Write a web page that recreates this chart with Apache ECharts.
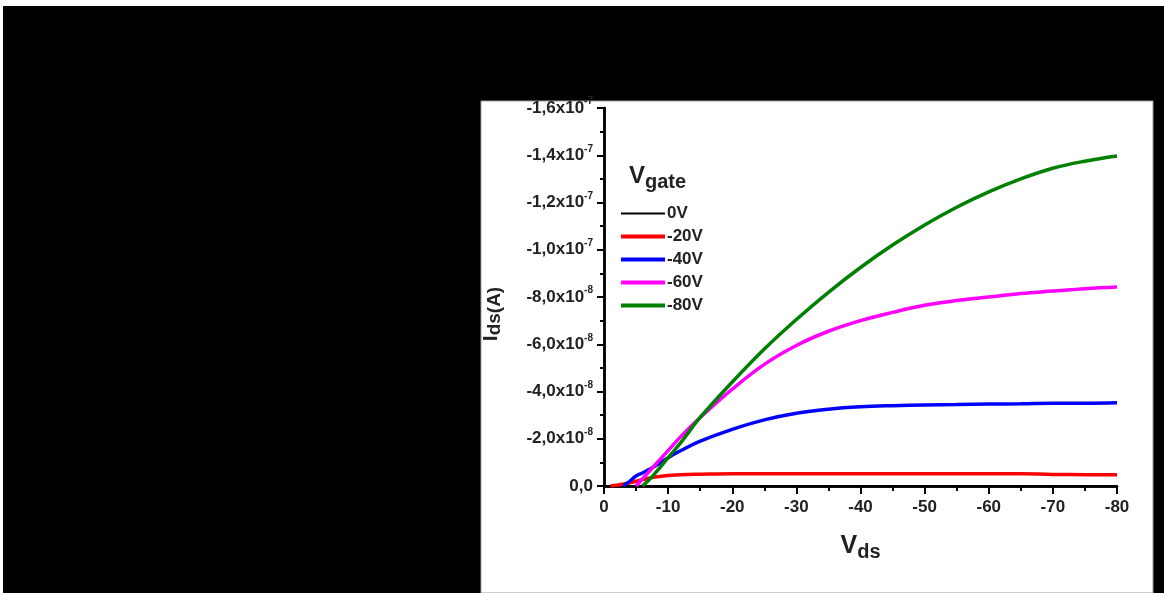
<!DOCTYPE html>
<html>
<head>
<meta charset="utf-8">
<style>
html,body{margin:0;padding:0;background:#fff;}
#chart{width:1164px;height:593px;}
</style>
<script src="https://cdn.jsdelivr.net/npm/echarts@6/dist/echarts.min.js"></script>
</head>
<body>
<div id="chart"></div>
<script>
// Drain voltage (magnitude, V); axis labels show it negative
var vds = [0, 1, 2, 3, 4, 5, 6, 7, 8, 10, 12, 15, 20, 25, 30, 35, 40, 45, 50, 55, 60, 65, 70, 75, 80];
// Drain current magnitude in units of 1e-8 A (plotted as negative on axis labels)
var i0V   = [0, 0, 0, 0, 0, 0, 0, 0, 0, 0, 0, 0, 0, 0, 0, 0, 0, 0, 0, 0, 0, 0, 0, 0, 0];
var i20V  = [null, 0, 0.03, 0.08, 0.14, 0.2, 0.27, 0.33, 0.38, 0.44, 0.48, 0.5, 0.52, 0.52, 0.52, 0.52, 0.52, 0.52, 0.52, 0.52, 0.52, 0.52, 0.49, 0.48, 0.48];
var i40V  = [null, null, null, 0, 0.2, 0.42, 0.55, 0.7, 0.85, 1.2, 1.5, 1.9, 2.4, 2.8, 3.08, 3.25, 3.35, 3.4, 3.43, 3.45, 3.47, 3.48, 3.5, 3.5, 3.52];
var i60V  = [null, null, null, null, null, 0, 0.3, 0.6, 0.9, 1.5, 2.1, 2.9, 4.1, 5.15, 5.95, 6.55, 7.0, 7.35, 7.65, 7.85, 8.0, 8.15, 8.25, 8.35, 8.42];
var i80V  = [null, null, null, null, null, null, 0, 0.25, 0.55, 1.2, 1.85, 2.9, 4.4, 5.8, 7.05, 8.2, 9.25, 10.2, 11.05, 11.8, 12.45, 13.0, 13.45, 13.75, 13.97];
var seriesNames = ['0V', '-20V', '-40V', '-60V', '-80V'];
var seriesColors = ['#000000', '#ff0000', '#0000ff', '#ff00ff', '#008000'];
var seriesData = [i0V, i20V, i40V, i60V, i80V];
// Y tick labels: [mantissa, exponent] for 0,2,4,...,16 (x1e-8)
var yTickLabels = [['0,0', ''], ['-2,0x10', '-8'], ['-4,0x10', '-8'], ['-6,0x10', '-8'], ['-8,0x10', '-8'],
                   ['-1,0x10', '-7'], ['-1,2x10', '-7'], ['-1,4x10', '-7'], ['-1,6x10', '-7']];
var xTickLabels = ['0', '-10', '-20', '-30', '-40', '-50', '-60', '-70', '-80'];

var chart = echarts.init(document.getElementById('chart'), null, {renderer: 'canvas'});
var FONT = '"Liberation Sans", Arial, sans-serif';
var series = seriesNames.map(function (n, k) {
  return {
    name: n, type: 'line', symbol: 'none', smooth: 0.4,
    data: vds.map(function (x, j) { return [x, seriesData[k][j]]; }),
    lineStyle: {color: seriesColors[k], width: k === 0 ? 2 : 3.5},
    itemStyle: {color: seriesColors[k]},
    z: 2 + k
  };
});
var thick = 'path://M0,0L44,0L44,4L0,4Z';
var thin = 'path://M0,0L44,0L44,2L0,2Z';
var option = {
  animation: false,
  backgroundColor: '#ffffff',
  graphic: [
    {type: 'rect', z: -10, shape: {x: 3, y: 6, width: 1161, height: 587}, style: {fill: '#000000'}},
    {type: 'rect', z: -9, shape: {x: 481, y: 101, width: 672, height: 492}, style: {fill: '#ffffff', stroke: '#9a9a9a', lineWidth: 1}},
    {type: 'text', z: 10, x: 491, y: 314, rotation: Math.PI / 2,
      style: {text: '{i|I}{s|ds(A)}', fontFamily: FONT, align: 'center', verticalAlign: 'middle',
        rich: {i: {fontSize: 21, fontWeight: 'bold', fontFamily: FONT, fill: '#222'},
               s: {fontSize: 19, fontWeight: 'bold', fontFamily: FONT, fill: '#222', padding: [8, 0, 0, 0]}}}}
  ],
  title: {
    text: '{v|V}{s|gate}', left: 629, top: 161, padding: 0,
    textStyle: {rich: {v: {fontSize: 24, fontWeight: 'bold', fontFamily: FONT, color: '#222', lineHeight: 26},
                       s: {fontSize: 20, fontWeight: 'bold', fontFamily: FONT, color: '#222', padding: [11, 0, 0, 0]}}}
  },
  legend: {
    orient: 'vertical', left: 621, top: 205, padding: 0,
    itemWidth: 44, itemHeight: 4, itemGap: 6, symbolKeepAspect: true,
    textStyle: {fontSize: 17, fontWeight: 'bold', fontFamily: FONT, color: '#222', padding: [0, 0, 0, -3]},
    data: seriesNames.map(function (n, k) { return {name: n, icon: k === 0 ? thin : thick}; })
  },
  grid: {left: 604, top: 108, width: 513, height: 378, containLabel: false},
  xAxis: [{
    type: 'value', min: 0, max: 80, interval: 10, position: 'bottom',
    axisLine: {lineStyle: {color: '#000', width: 2.5}},
    axisTick: {inside: false, length: 8, lineStyle: {width: 2, color: '#000'}},
    minorTick: {show: true, splitNumber: 2, length: 4, lineStyle: {width: 2, color: '#000'}},
    splitLine: {show: false},
    axisLabel: {margin: 13, fontSize: 17, fontWeight: 'bold', fontFamily: FONT, color: '#222',
      formatter: function (v) { return xTickLabels[Math.round(v / 10)]; }},
    name: '{v|V}{s|ds}', nameLocation: 'middle', nameGap: 44,
    nameTextStyle: {rich: {v: {fontSize: 25, fontWeight: 'bold', fontFamily: FONT, color: '#222'},
                           s: {fontSize: 20, fontWeight: 'bold', fontFamily: FONT, color: '#222', padding: [12, 0, 0, 0]}}}
  }, {
    type: 'value', min: 0, max: 80, interval: 10, position: 'top',
    axisLine: {lineStyle: {color: '#000', width: 2.5}},
    axisTick: {inside: true, length: 8, lineStyle: {width: 2, color: '#000'}},
    minorTick: {show: true, splitNumber: 2, length: 5, lineStyle: {width: 2, color: '#000'}},
    splitLine: {show: false}, axisLabel: {show: false}
  }],
  yAxis: [{
    type: 'value', min: 0, max: 16, interval: 2, position: 'left',
    axisLine: {lineStyle: {color: '#000', width: 2.5}},
    axisTick: {inside: false, length: 7, lineStyle: {width: 2, color: '#000'}},
    minorTick: {show: true, splitNumber: 2, length: 4, lineStyle: {width: 2, color: '#000'}},
    splitLine: {show: false},
    axisLabel: {margin: 11, fontFamily: FONT,
      formatter: function (v) {
        var t = yTickLabels[Math.round(v / 2)];
        return t[1] ? '{m|' + t[0] + '}{e|' + t[1] + '}' : '{m|' + t[0] + '}';
      },
      rich: {m: {fontSize: 17, fontWeight: 'bold', fontFamily: FONT, color: '#222', lineHeight: 18},
             e: {fontSize: 10, fontWeight: 'bold', fontFamily: FONT, color: '#222', padding: [0, 0, 13, 0]}}}
  }, {
    type: 'value', min: 0, max: 16, interval: 2, position: 'right',
    axisLine: {show: true, lineStyle: {color: '#000', width: 2.5}},
    axisTick: {show: false}, axisLabel: {show: false}, splitLine: {show: false}
  }],
  series: series
};
chart.setOption(option);
</script>
</body>
</html>
